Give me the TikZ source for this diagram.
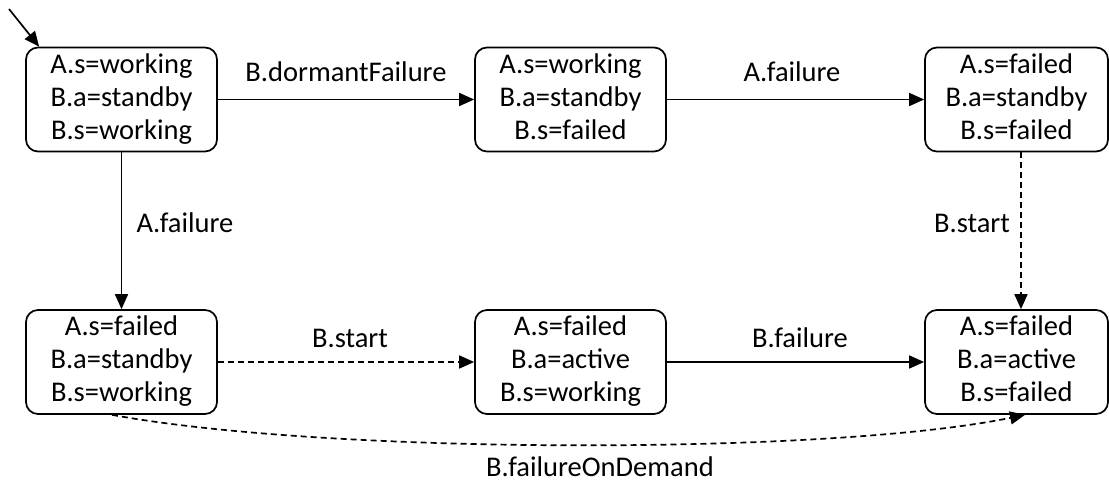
\documentclass[tikz,border=0pt]{standalone}
\usepackage{fontspec}
\setmainfont{Carlito}
\usetikzlibrary{arrows.meta}

% three-line state label
\newcommand{\stv}[3]{\raisebox{-2pt}{\begin{tabular}{@{}c@{}}#1\\#2\\#3\end{tabular}}}

\tikzset{
  statebox/.style={draw, line width=1.7pt, rounded corners=12pt, minimum height=104pt,
    inner sep=0pt, font=\fontsize{28.5}{33}\selectfont},
  wide/.style={statebox, minimum width=191pt},
  narrow/.style={statebox, minimum width=183pt},
  lbl/.style={inner sep=0pt, font=\fontsize{28.5}{32}\selectfont},
  trans/.style={line width=1.7pt, -{Triangle[length=15pt,width=13pt]}},
  lazy/.style={trans, dash pattern=on 6pt off 4pt},
}

\begin{document}
\begin{tikzpicture}[x=1pt, y=-1pt]
\useasboundingbox (0,0) rectangle (1109,484);

% states, upper row
\node[wide]   (s1) at (121.5,99.5) {\stv{A.s=working}{B.a=standby}{B.s=working}};
\node[wide]   (s2) at (570.5,99.5) {\stv{A.s=working}{B.a=standby}{B.s=failed}};
\node[narrow] (s3) at (1016.5,99.5) {\stv{A.s=failed}{B.a=standby}{B.s=failed}};
% states, lower row
\node[wide]   (s4) at (121.5,362) {\stv{A.s=failed}{B.a=standby}{B.s=working}};
\node[wide]   (s5) at (570.5,362) {\stv{A.s=failed}{B.a=active}{B.s=working}};
\node[narrow] (s6) at (1016.5,362) {\stv{A.s=failed}{B.a=active}{B.s=failed}};

% initial marker
\coordinate (init) at (9,9);
\draw[trans] (init) -- ([xshift=14pt]s1.north west);

% transitions
\draw[trans] (s1) -- (s2);
\draw[trans] (s2) -- (s3);
\draw[trans] (s1) -- (s4);
\draw[lazy]  (s4) -- (s5);
\draw[trans] (s5) -- (s6);
\draw[lazy]  ([xshift=4.5pt]s3.south) -- ([xshift=4.5pt]s6.north);
\draw[lazy]  ([xshift=-9.5pt]s4.south) .. controls (330,455) and (830,455) .. ([xshift=8.5pt]s6.south);

% transition labels
\node[lbl] (l12) at (346,72)  {B.dormantFailure};
\node[lbl] (l23) at (792,72)  {A.failure};
\node[lbl] (l14) at (185,223) {A.failure};
\node[lbl] (l36) at (972,223) {B.start};
\node[lbl] (l45) at (350,338) {B.start};
\node[lbl] (l56) at (800,338) {B.failure};
\node[lbl] (l46) at (600,467) {B.failureOnDemand};
\end{tikzpicture}
\end{document}
